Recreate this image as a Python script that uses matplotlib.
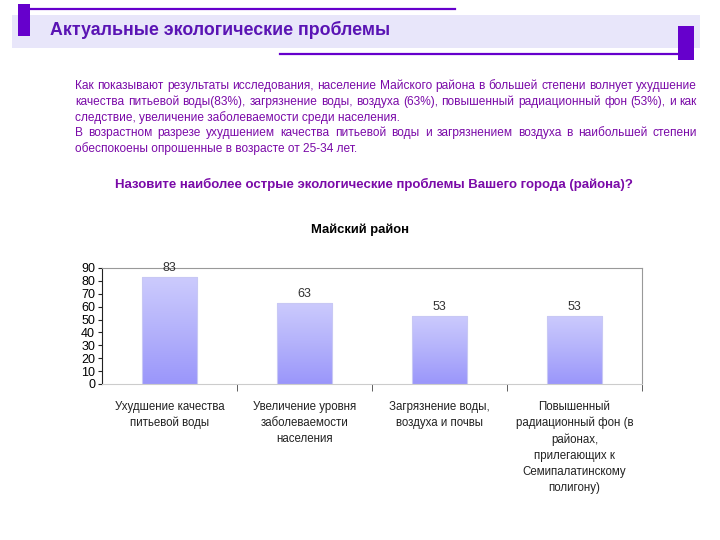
import matplotlib.pyplot as plt
import numpy as np
from matplotlib.patches import Rectangle
from matplotlib.colors import LinearSegmentedColormap

plt.rcParams["font.family"] = ["Liberation Sans", "DejaVu Sans"]

# Data
categories = [
    "Ухудшение качества\nпитьевой воды",
    "Увеличение уровня\nзаболеваемости\nнаселения",
    "Загрязнение воды,\nвоздуха и почвы",
    "Повышенный\nрадиационный фон (в\nрайонах,\nприлегающих к\nСемипалатинскому\nполигону)",
]
values = [83, 63, 53, 53]
yticks = [0, 10, 20, 30, 40, 50, 60, 70, 80, 90]

header = "Актуальные экологические проблемы"
body_lines = [
    "Как показывают результаты исследования, население Майского района в большей степени волнует ухудшение",
    "качества питьевой воды(83%), загрязнение воды, воздуха (63%), повышенный радиационный фон (53%), и как",
    "следствие, увеличение заболеваемости среди населения.",
    "В возрастном разрезе ухудшением качества питьевой воды и загрязнением воздуха в наибольшей степени",
    "обеспокоены опрошенные в возрасте от 25-34 лет.",
]
justified = [True, True, False, True, False]
question = "Назовите наиболее острые экологические проблемы Вашего города (района)?"
chart_title = "Майский район"

W, H = 720, 540
fig = plt.figure(figsize=(7.2, 5.4), dpi=100)

# Header decoration in pixel coords (overlay axes)
deco = fig.add_axes([0, 0, 1, 1])
deco.set_xlim(0, W)
deco.set_ylim(H, 0)
deco.axis("off")
deco.add_patch(Rectangle((12, 15), 688, 33, color="#e8e6fa", lw=0))
deco.add_patch(Rectangle((18, 4), 12, 32, color="#6600cc", lw=0))
deco.plot([30, 455], [8.5, 8.5], color="#6600cc", lw=1.6)
deco.add_patch(Rectangle((678, 26), 16, 34, color="#6600cc", lw=0))
deco.plot([280, 680], [53.5, 53.5], color="#6600cc", lw=1.6)
deco.text(50, 30, header, fontsize=12.8, fontweight="bold", color="#5a14b4",
          va="center", ha="left")

# Body text, justified lines between x=75 and x=697
purple = "#7a0aa8"
ys = [86, 102, 118, 133, 149]
renderer = fig.canvas.get_renderer()
x0, x1 = 75, 697
for y, line, just in zip(ys, body_lines, justified):
    if not just:
        deco.text(x0, y, line, fontsize=8.6, color=purple, va="center", ha="left")
        continue
    words = line.split(" ")
    widths = []
    for w in words:
        t = deco.text(0, 0, w, fontsize=8.6)
        widths.append(t.get_window_extent(renderer).width)
        t.remove()
    gap = (x1 - x0 - sum(widths)) / (len(words) - 1)
    xp = x0
    for w, wd in zip(words, widths):
        deco.text(xp, y, w, fontsize=8.6, color=purple, va="center", ha="left")
        xp += wd + gap

deco.text(374, 184, question, fontsize=9.5, fontweight="bold", color="#7a0aa8",
          va="center", ha="center")
deco.text(360, 230, chart_title, fontsize=9.4, fontweight="bold", color="black",
          va="center", ha="center")

# Chart
ax = fig.add_axes([102 / W, 1 - 384 / H, (642 - 102) / W, (384 - 268) / H])
x = np.arange(len(values))
bars = ax.bar(x, values, width=0.41, color="none", edgecolor="#c8c8f4", lw=0.8, zorder=3)
grad = np.linspace(0, 1, 256).reshape(-1, 1)
cmap = LinearSegmentedColormap.from_list("g", ["#9a96fa", "#b4b2fb", "#cccbfd"])
for b in bars:
    im = ax.imshow(grad, aspect="auto", cmap=cmap, origin="lower",
                   extent=[b.get_x(), b.get_x() + b.get_width(), 0, b.get_height()],
                   zorder=2)
    im.set_clip_path(b)
for xi, v in zip(x, values):
    ax.text(xi, v + 2, str(v), ha="center", va="bottom", fontsize=9, color="#333333")

ax.set_xlim(-0.5, len(values) - 0.5)
ax.set_ylim(0, 90)
ax.set_yticks(yticks)
ax.tick_params(axis="y", labelsize=9, length=3, width=0.8, color="#222222", pad=2)
ax.set_xticks(x)
ax.set_xticklabels(categories, fontsize=8.3, color="#222222", linespacing=1.45)
ax.tick_params(axis="x", length=0, pad=12)
ax.set_xticks(np.arange(0.5, len(values), 1), minor=True)
ax.tick_params(axis="x", which="minor", length=5, color="#444444", direction="out")
for s in ["top", "right"]:
    ax.spines[s].set_color("#999999")
ax.spines["bottom"].set_color("#cccccc")
ax.spines["left"].set_color("#222222")
for s in ax.spines.values():
    s.set_linewidth(0.8)

fig.savefig("out.png", dpi=100)
